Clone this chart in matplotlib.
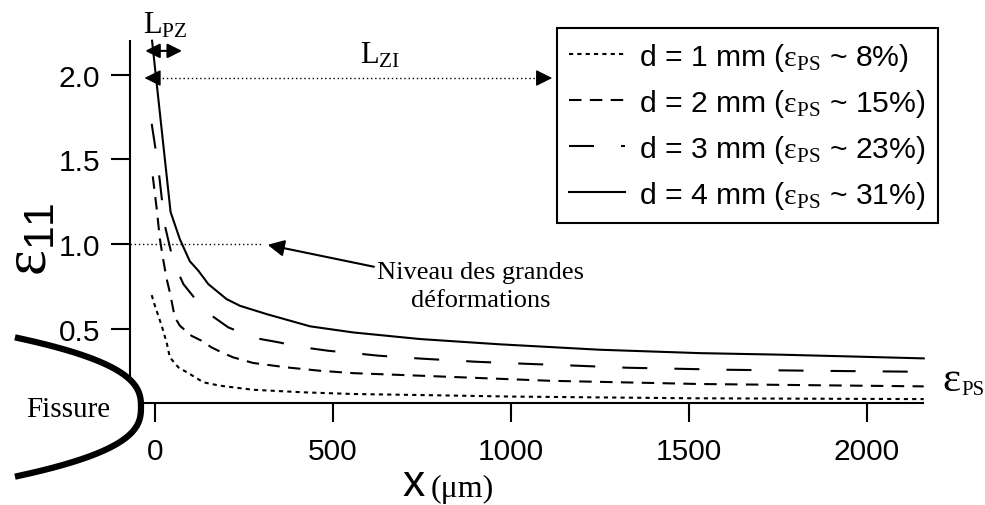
import numpy as np
import matplotlib.pyplot as plt
from matplotlib.patches import Polygon

plt.rcParams['font.family'] = ['Liberation Sans', 'DejaVu Sans']
plt.rcParams['mathtext.fontset'] = 'custom'
plt.rcParams['mathtext.rm'] = 'Liberation Serif'
plt.rcParams['mathtext.it'] = 'Liberation Serif:italic'
plt.rcParams['mathtext.bf'] = 'Liberation Serif:bold'
plt.rcParams['mathtext.sf'] = 'Liberation Sans'

# profiles: x in um, eps_11
x_d1 = [-9, 0, 19, 33, 42, 66, 98, 136, 183, 276, 417, 557, 745, 1000, 1500, 2160]
y_d1 = [0.70, 0.637, 0.52, 0.42, 0.333, 0.274, 0.235, 0.186, 0.166, 0.142, 0.127, 0.117, 0.111, 0.102, 0.092, 0.087]

x_d2 = [-6, 5, 14, 23, 33, 42, 56, 70, 103, 131, 159, 187, 220, 276, 370, 464, 557, 745, 1110, 1531, 2160]
y_d2 = [1.40, 1.21, 1.03, 0.913, 0.795, 0.716, 0.569, 0.52, 0.46, 0.431, 0.392, 0.363, 0.333, 0.30, 0.274, 0.254, 0.24, 0.225, 0.195, 0.176, 0.162]

x_d3 = [-9, 9, 28, 52, 80, 140, 206, 281, 347, 417, 487, 558, 628, 745, 904, 1044, 1184, 1325, 1606, 1900, 2160]
y_d3 = [1.71, 1.46, 1.11, 0.895, 0.765, 0.608, 0.51, 0.447, 0.422, 0.392, 0.372, 0.358, 0.343, 0.326, 0.307, 0.295, 0.284, 0.272, 0.26, 0.253, 0.248]

x_d4 = [-8, 44, 70, 98, 122, 150, 201, 239, 314, 436, 557, 745, 969, 1250, 1531, 1756, 1943, 2160]
y_d4 = [2.2, 1.19, 1.03, 0.90, 0.844, 0.765, 0.677, 0.637, 0.588, 0.516, 0.48, 0.441, 0.41, 0.378, 0.358, 0.349, 0.339, 0.327]

labels = [r'd = 1 mm ($\mathrm{ε}_{\mathrm{PS}}$ ~ 8%)',
          r'd = 2 mm ($\mathrm{ε}_{\mathrm{PS}}$ ~ 15%)',
          r'd = 3 mm ($\mathrm{ε}_{\mathrm{PS}}$ ~ 23%)',
          r'd = 4 mm ($\mathrm{ε}_{\mathrm{PS}}$ ~ 31%)']
xticks = [0, 500, 1000, 1500, 2000]
yticks = [0.5, 1.0, 1.5, 2.0]

W, H = 985, 506
fig = plt.figure(figsize=(W / 100, H / 100), dpi=100)
ax = fig.add_axes([130 / W, 1 - 404 / H, 793 / W, 362.3 / H])

styles = [(0, (2, 2)), (0, (6, 4)), (0, (12, 13)), '-']
series = [(x_d1, y_d1), (x_d2, y_d2), (x_d3, y_d3), (x_d4, y_d4)]
for (xs, ys), ls, lab in zip(series, styles, labels):
    ax.plot(xs, ys, color='black', lw=1.5, linestyle=ls, label=lab, clip_on=False)

ax.set_xlim(-70, 2158)
ax.set_ylim(0.064, 2.2)
ax.set_xticks(xticks)
ax.set_yticks(yticks)
ax.set_yticklabels(['%.1f' % v for v in yticks])
for s in ['top', 'right']:
    ax.spines[s].set_visible(False)
for s in ['left', 'bottom']:
    ax.spines[s].set_linewidth(1.5)
ax.tick_params(direction='out', length=13.5, width=1.5, labelsize=21.5)
ax.tick_params(axis='x', pad=11)
ax.tick_params(axis='y', pad=8)

# x label: sans "x", serif unit
fig.text(425 / W, 1 - 496 / H, 'x', fontsize=32, ha='right', va='baseline')
fig.text(431 / W, 1 - 497 / H, '(μm)', fontsize=23, family='Liberation Serif', ha='left', va='baseline')
# y label
fig.text(31 / W, 1 - 239 / H, r'$\mathrm{ε}_{\mathsf{11}}$', fontsize=44, rotation=90, ha='center', va='center')

leg = ax.legend(loc='upper left', bbox_to_anchor=(556.7 / W, 1 - 29.3 / H), bbox_transform=fig.transFigure,
                borderaxespad=0, fontsize=21.7, handlelength=1.86, handletextpad=0.45, labelspacing=0.46,
                borderpad=0.42, fancybox=False, framealpha=1, edgecolor='black')
leg.get_frame().set_linewidth(1.5)

# annotation lines
dot = (0, (1, 2))
ax.plot([-70, 300], [1.0, 1.0], color='black', lw=1, linestyle=dot, clip_on=False)
ax.annotate('', xy=(309, 1.0), xytext=(623, 0.864),
            arrowprops=dict(arrowstyle='-|>', lw=1.5, color='black', mutation_scale=25))
ax.text(916, 0.755, 'Niveau des grandes\ndéformations', family='Liberation Serif', fontsize=19,
        ha='center', va='center', linespacing=1.38)

ax.plot([8, 1080], [1.98, 1.98], color='black', lw=1, linestyle=dot, clip_on=False)
ax.annotate('', xy=(-37, 1.98), xytext=(8, 1.98),
            arrowprops=dict(arrowstyle='-|>', lw=1, color='black', mutation_scale=25), annotation_clip=False)
ax.annotate('', xy=(1124, 1.98), xytext=(1080, 1.98),
            arrowprops=dict(arrowstyle='-|>', lw=1, color='black', mutation_scale=25), annotation_clip=False)
ax.text(632, 2.12, r'$\mathrm{L}_{\mathrm{ZI}}$', fontsize=22, ha='center', va='center')

ax.annotate('', xy=(-35, 2.14), xytext=(84, 2.14),
            arrowprops=dict(arrowstyle='<|-|>', lw=1.5, color='black', mutation_scale=22), annotation_clip=False)
fig.text(165 / W, 1 - 26 / H, r'$\mathrm{L}_{\mathrm{PZ}}$', fontsize=22, ha='center', va='center')

# eps_PS marker at right end of curves
fig.text(942 / W, 1 - 391 / H, 'ε', family='Liberation Serif', fontsize=31, ha='left', va='baseline')
fig.text(961 / W, 1 - 395 / H, 'PS', family='Liberation Serif', fontsize=15, ha='left', va='baseline')

# crack tip sketch
t = np.linspace(-1, 1, 200)
px = 141 - 123 * np.abs(t) ** 2.6
py = 408 + 69 * t
pts = np.column_stack([px / W, 1 - py / H])
fig.add_artist(Polygon(pts, closed=True, facecolor='white', edgecolor='none', transform=fig.transFigure, zorder=3))
fig.add_artist(plt.Line2D(pts[:, 0], pts[:, 1], color='black', lw=4.5, transform=fig.transFigure, zorder=4))
fig.text(68 / W, 1 - 410 / H, 'Fissure', family='Liberation Serif', fontsize=21, ha='center', va='center', zorder=5)

fig.savefig('out.png', dpi=100)
